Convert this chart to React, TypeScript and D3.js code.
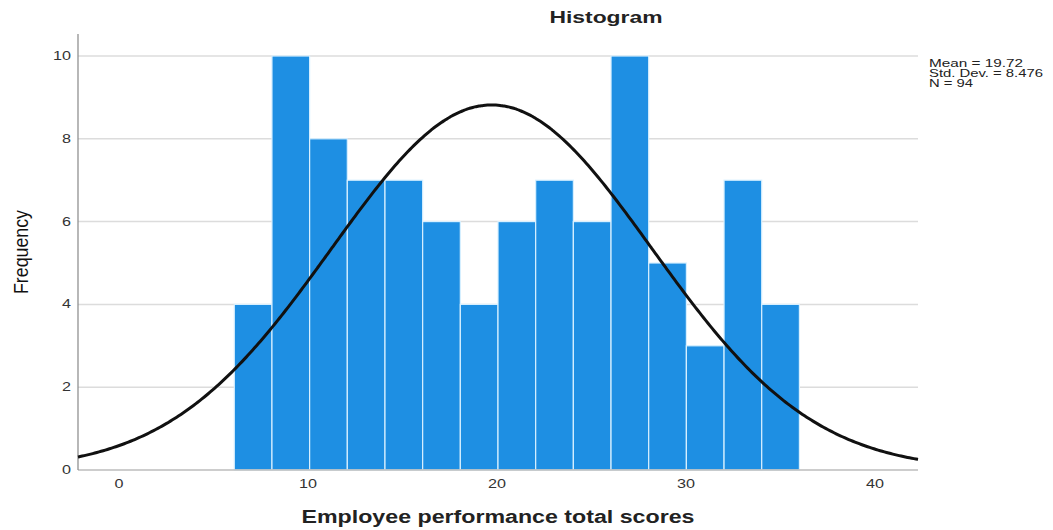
import React from "react";
import * as d3 from "d3";

const counts = [4, 10, 8, 7, 7, 6, 4, 6, 7, 6, 10, 5, 3, 7, 4];
const binStart = 6.1;
const binEnd = 36.0;
const xTicks = [0, 10, 20, 30, 40];
const yTicks = [0, 2, 4, 6, 8, 10];
const mean = 19.72;
const sd = 8.476;
const n = 94;
const statLines = ["Mean = 19.72", "Std. Dev. = 8.476", "N = 94"];
const statWidths = [94, 114, 44];

const W = 1053;
const H = 530;
const left = 78;
const right = 918;
const top = 34;
const bottom = 470;
const FONT = "Liberation Sans, Arial, sans-serif";

export default function App() {
  const x = d3.scaleLinear().domain([0, 40]).range([119, 875]);
  const xMin = x.invert(left);
  const xMax = x.invert(right);
  const y = d3.scaleLinear().domain([0, 10]).range([bottom, 56]);
  const bw = (binEnd - binStart) / counts.length;
  const bins = counts.map((c, i) => ({ x0: binStart + i * bw, x1: binStart + (i + 1) * bw, c }));

  const curvePts = d3.range(0, 401).map((i) => {
    const v = xMin + ((xMax - xMin) * i) / 400;
    const dens = (n * bw) / (sd * Math.sqrt(2 * Math.PI)) * Math.exp(-((v - mean) ** 2) / (2 * sd * sd));
    return [v, dens] as [number, number];
  });
  const line = d3
    .line<[number, number]>()
    .x((d) => x(d[0]))
    .y((d) => y(d[1]))
    .curve(d3.curveBasis);

  const tickW = (t: number) => (String(t).length === 1 ? 9 : 18);

  return (
    <svg width={W} height={H} style={{ position: "absolute", left: 0, top: 0, background: "#fff" }}>
      <rect x={0} y={0} width={W} height={H} fill="#fff" />
      <text x={606} y={23} textAnchor="middle" fontFamily={FONT} fontWeight="bold" fontSize={16} fill="#222" textLength={113} lengthAdjust="spacingAndGlyphs">
        Histogram
      </text>
      {yTicks.filter((t) => t > 0).map((t) => (
        <line key={t} x1={left} x2={right} y1={y(t)} y2={y(t)} stroke="#dcdcdc" strokeWidth={1.5} />
      ))}
      {bins.map((b, i) => (
        <rect
          key={i}
          x={x(b.x0)}
          y={y(b.c)}
          width={x(b.x1) - x(b.x0)}
          height={y(0) - y(b.c)}
          fill="#1e8fe3"
          stroke="#d8f0ff"
          strokeWidth={1.2}
        />
      ))}
      <line x1={left} x2={right} y1={bottom} y2={bottom} stroke="#bdbdbd" strokeWidth={1.5} />
      <line x1={left} x2={left} y1={top} y2={bottom} stroke="#888" strokeWidth={1.2} />
      <path d={line(curvePts) || ""} fill="none" stroke="#111" strokeWidth={3} />
      {yTicks.map((t) => (
        <text key={t} x={71} y={y(t) + 4} textAnchor="end" fontFamily={FONT} fontSize={12} fill="#333" textLength={tickW(t)} lengthAdjust="spacingAndGlyphs">
          {t}
        </text>
      ))}
      {xTicks.map((t) => (
        <text key={t} x={x(t)} y={488} textAnchor="middle" fontFamily={FONT} fontSize={12} fill="#333" textLength={tickW(t)} lengthAdjust="spacingAndGlyphs">
          {t}
        </text>
      ))}
      <text
        transform={`translate(28,252) rotate(-90)`}
        textAnchor="middle"
        fontFamily={FONT}
        fontSize={21}
        fill="#111"
        textLength={84}
        lengthAdjust="spacingAndGlyphs"
      >
        Frequency
      </text>
      <text x={498} y={523} textAnchor="middle" fontFamily={FONT} fontWeight="bold" fontSize={18} fill="#222" textLength={393} lengthAdjust="spacingAndGlyphs">
        Employee performance total scores
      </text>
      {statLines.map((s, i) => (
        <text key={i} x={929} y={67 + i * 10} fontFamily={FONT} fontSize={11.5} fill="#222" textLength={statWidths[i]} lengthAdjust="spacingAndGlyphs">
          {s}
        </text>
      ))}
    </svg>
  );
}
